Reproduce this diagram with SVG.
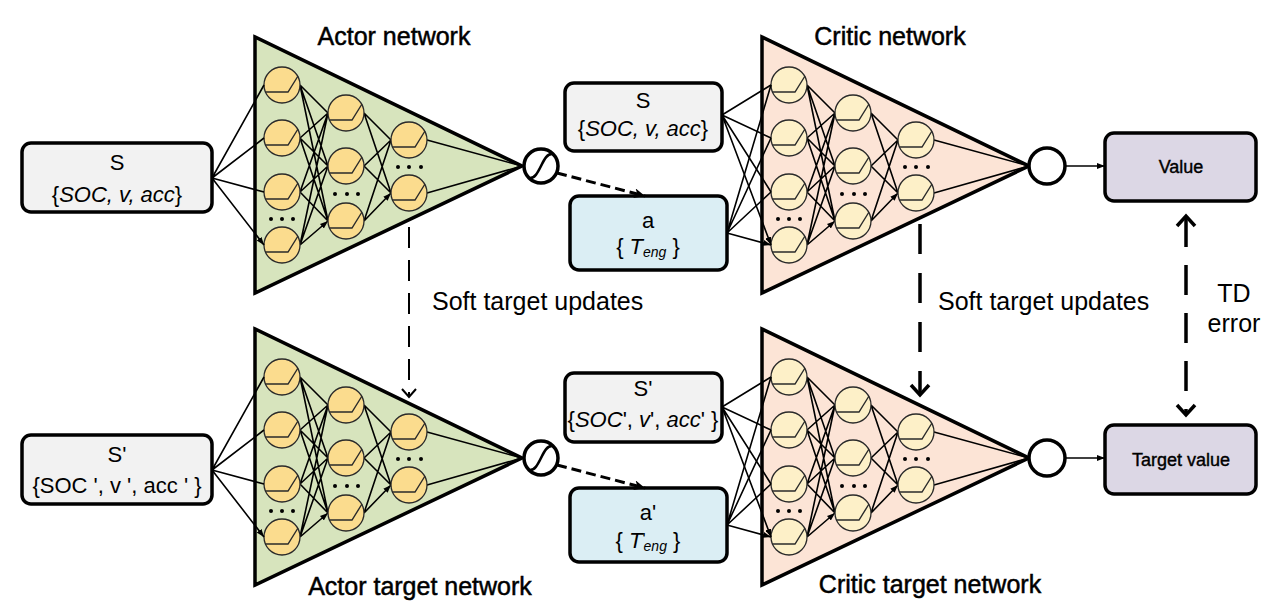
<svg xmlns="http://www.w3.org/2000/svg" xmlns:xlink="http://www.w3.org/1999/xlink" width="1287" height="611" viewBox="0 0 1287 611">
<style>
  text { font-family: "Liberation Sans", Arial, sans-serif; fill: #000; }
  .title { font-size: 25px; text-anchor: middle; stroke: #000; stroke-width: 0.5; }
  .lbl { font-size: 25px; }
  .box { stroke: #000; stroke-width: 3.5; }
  .bt { font-size: 22px; text-anchor: middle; }
  .vt { font-size: 18px; text-anchor: middle; stroke: #000; stroke-width: 0.4; }
  .tri { stroke: #000; stroke-width: 3.5; stroke-linejoin: miter; }
  .n { stroke: #2a2a2a; stroke-width: 1.3; }
  .relu { fill: none; stroke: #2a2a2a; stroke-width: 1.4; }
  .e { stroke: #000; stroke-width: 1.6; fill: none; }
  .ea { stroke: #000; stroke-width: 1.6; fill: none; marker-end: url(#ah); }
  .dot { fill: #000; }
  .circ { fill: #fff; stroke: #000; stroke-width: 3.5; }
  .sig { fill: none; stroke: #000; stroke-width: 2.6; }
</style>
<defs>
  <marker id="ah" markerUnits="userSpaceOnUse" markerWidth="8" markerHeight="6" refX="8" refY="3" orient="auto">
    <path d="M0,0 L8,3 L0,6 Z" fill="#000"/>
  </marker>
  <marker id="ahd" markerUnits="userSpaceOnUse" markerWidth="12" markerHeight="10" refX="11" refY="5" orient="auto">
    <path d="M0,0 L11,5 L0,10 L3,5 Z" fill="#000"/>
  </marker>
  <path id="tri" class="tri" d="M255,37 L255,293 L522,166 Z"/>
  <g id="edges">
    <path class="ea" d="M300,85 L328,113 M300,85 L328,166 M300,85 L328,221 M300,138 L328,113 M300,138 L328,166 M300,138 L328,221 M300,192 L328,113 M300,192 L328,166 M300,192 L328,221 M300,245 L328,113 M300,245 L328,166 M300,245 L328,221"/>
    <path class="ea" d="M364,113 L391,140 M364,113 L391,193 M364,166 L391,140 M364,166 L391,193 M364,221 L391,140 M364,221 L391,193"/>
    <path class="e" d="M427,140 L522,166 M427,193 L522,166"/>
  </g>
  <g id="neurons">
    <circle class="n" cx="282" cy="85" r="18"/><path class="relu" d="M265,92 H288 L298,76"/>
    <circle class="n" cx="282" cy="138" r="18"/><path class="relu" d="M265,145 H288 L298,129"/>
    <circle class="n" cx="282" cy="192" r="18"/><path class="relu" d="M265,199 H288 L298,183"/>
    <circle class="n" cx="282" cy="245" r="18"/><path class="relu" d="M265,252 H288 L298,236"/>
    <circle class="n" cx="346" cy="113" r="18"/><path class="relu" d="M329,120 H352 L362,104"/>
    <circle class="n" cx="346" cy="166" r="18"/><path class="relu" d="M329,173 H352 L362,157"/>
    <circle class="n" cx="346" cy="221" r="18"/><path class="relu" d="M329,228 H352 L362,212"/>
    <circle class="n" cx="409" cy="140" r="18"/><path class="relu" d="M392,147 H415 L425,131"/>
    <circle class="n" cx="409" cy="193" r="18"/><path class="relu" d="M392,200 H415 L425,184"/>
    <circle class="dot" cx="271" cy="219" r="2"/><circle class="dot" cx="282" cy="219" r="2"/><circle class="dot" cx="293" cy="219" r="2"/>
    <circle class="dot" cx="335" cy="194" r="2"/><circle class="dot" cx="347" cy="194" r="2"/><circle class="dot" cx="358" cy="194" r="2"/>
    <circle class="dot" cx="398" cy="167" r="2"/><circle class="dot" cx="409" cy="167" r="2"/><circle class="dot" cx="421" cy="167" r="2"/>
  </g>
</defs>

<g id="actor-network">
  <use href="#tri" fill="#d7e4bd"/>
  <use href="#edges"/>
  <use href="#neurons" fill="#fbdc8e"/>
  <text class="title" x="394" y="45">Actor network</text>
</g>
<g id="critic-network" transform="translate(507,0)">
  <use href="#tri" fill="#fce4d6"/>
  <use href="#edges"/>
  <use href="#neurons" fill="#fdf0c8"/>
  <text class="title" x="383" y="45">Critic network</text>
</g>
<g id="actor-target-network" transform="translate(0,292)">
  <use href="#tri" fill="#d7e4bd"/>
  <use href="#edges"/>
  <use href="#neurons" fill="#fbdc8e"/>
  <text class="title" x="420" y="303">Actor target network</text>
</g>
<g id="critic-target-network" transform="translate(507,292)">
  <use href="#tri" fill="#fce4d6"/>
  <use href="#edges"/>
  <use href="#neurons" fill="#fdf0c8"/>
  <text class="title" x="423" y="301">Critic target network</text>
</g>

<g id="state-s">
  <rect class="box" x="22" y="143" width="190" height="69" rx="9" fill="#f2f2f2"/>
  <text class="bt" x="117" y="170">S</text>
  <text class="bt" x="117" y="202" font-size="23">{<tspan font-style="italic">SOC, v, acc</tspan>}</text>
</g>
<g id="state-s-next">
  <rect class="box" x="22" y="435" width="190" height="69" rx="9" fill="#f2f2f2"/>
  <text class="bt" x="117" y="462">S'</text>
  <text class="bt" x="117" y="493">{SOC ', v ', acc ' }</text>
</g>
<g id="critic-state-s">
  <rect class="box" x="565" y="83" width="157" height="68" rx="9" fill="#f2f2f2"/>
  <text class="bt" x="643" y="108">S</text>
  <text class="bt" x="643" y="136" font-size="23">{<tspan font-style="italic">SOC, v, acc</tspan>}</text>
</g>
<g id="critic-state-s-next">
  <rect class="box" x="565" y="373" width="157" height="69" rx="9" fill="#f2f2f2"/>
  <text class="bt" x="643" y="396">S'</text>
  <text class="bt" x="643" y="427" font-size="19">{<tspan font-style="italic">SOC</tspan>', <tspan font-style="italic">v</tspan>', <tspan font-style="italic">acc</tspan>' }</text>
</g>
<g id="action-a">
  <rect class="box" x="570" y="196" width="157" height="74" rx="9" fill="#dbeef4"/>
  <text class="bt" x="648" y="228" font-size="23">a</text>
  <text class="bt" x="648" y="254" font-size="21">{ <tspan font-style="italic">T</tspan><tspan font-style="italic" font-size="14" dy="3">eng</tspan><tspan dy="-3"> }</tspan></text>
</g>
<g id="action-a-next">
  <rect class="box" x="570" y="488" width="157" height="74" rx="9" fill="#dbeef4"/>
  <text class="bt" x="648" y="520" font-size="23">a'</text>
  <text class="bt" x="648" y="548" font-size="21">{ <tspan font-style="italic">T</tspan><tspan font-size="16" dy="-3">'</tspan><tspan font-style="italic" font-size="14" dx="-2" dy="6">eng</tspan><tspan dy="-3"> }</tspan></text>
</g>
<g id="sigmoid-1">
  <circle class="circ" cx="541" cy="166" r="17"/>
  <path class="sig" d="M529,178 C540,180 542,152 553,154"/>
</g>
<g id="sigmoid-2">
  <circle class="circ" cx="541" cy="458" r="17"/>
  <path class="sig" d="M529,470 C540,472 542,444 553,446"/>
</g>
<g id="critic-output-1">
  <circle class="circ" cx="1047" cy="166" r="18"/>
</g>
<g id="critic-output-2">
  <circle class="circ" cx="1047" cy="458" r="18"/>
</g>
<g id="value">
  <rect class="box" x="1105" y="133" width="151" height="68" rx="9" fill="#dcd7e5"/>
  <text class="vt" x="1181" y="173">Value</text>
</g>
<g id="target-value">
  <rect class="box" x="1105" y="425" width="151" height="69" rx="9" fill="#dcd7e5"/>
  <text class="vt" x="1181" y="466">Target value</text>
</g>

<g id="connectors">
  <path class="ea" d="M212,178 L264,85 M212,178 L264,138 M212,178 L264,192 M212,178 L264,245"/>
  <path class="ea" d="M212,470 L264,377 M212,470 L264,430 M212,470 L264,484 M212,470 L264,537"/>
  <path class="ea" d="M722,115 L771,85 M722,115 L771,138 M722,115 L771,192 M722,115 L771,245"/>
  <path class="ea" d="M727,233 L771,85 M727,233 L771,138 M727,233 L771,192 M727,233 L771,245"/>
  <path class="ea" d="M722,407 L771,377 M722,407 L771,430 M722,407 L771,484 M722,407 L771,537"/>
  <path class="ea" d="M727,525 L771,377 M727,525 L771,430 M727,525 L771,484 M727,525 L771,537"/>
  <path d="M557,173 L645,196" stroke="#000" stroke-width="3" stroke-dasharray="10 5" fill="none" marker-end="url(#ahd)"/>
  <path d="M557,465 L645,488" stroke="#000" stroke-width="3" stroke-dasharray="10 5" fill="none" marker-end="url(#ahd)"/>
  <path class="ea" d="M1065,166 L1105,166"/>
  <path class="ea" d="M1065,458 L1105,458"/>
  <path d="M409,227 L409,396" stroke="#000" stroke-width="2" stroke-dasharray="21 12" fill="none"/>
  <path d="M402,389 L409,397 L416,389" stroke="#000" stroke-width="2" fill="none"/>
  <path d="M920,224 L920,394" stroke="#000" stroke-width="3.5" stroke-dasharray="30 19" fill="none"/>
  <path d="M911,385 L920,395 L929,385" stroke="#000" stroke-width="3.5" fill="none"/>
  <path d="M1186,217 L1186,414" stroke="#000" stroke-width="3.5" stroke-dasharray="30 18" fill="none"/>
  <path d="M1177,226 L1186,216 L1195,226" stroke="#000" stroke-width="3.5" fill="none"/>
  <path d="M1177,405 L1186,415 L1195,405" stroke="#000" stroke-width="3.5" fill="none"/>
</g>

<g id="labels">
  <text class="lbl" x="432" y="310">Soft target updates</text>
  <text class="lbl" x="938" y="310">Soft target updates</text>
  <text class="lbl" x="1234" y="302" text-anchor="middle">TD</text>
  <text class="lbl" x="1234" y="332" text-anchor="middle">error</text>
</g>
</svg>
